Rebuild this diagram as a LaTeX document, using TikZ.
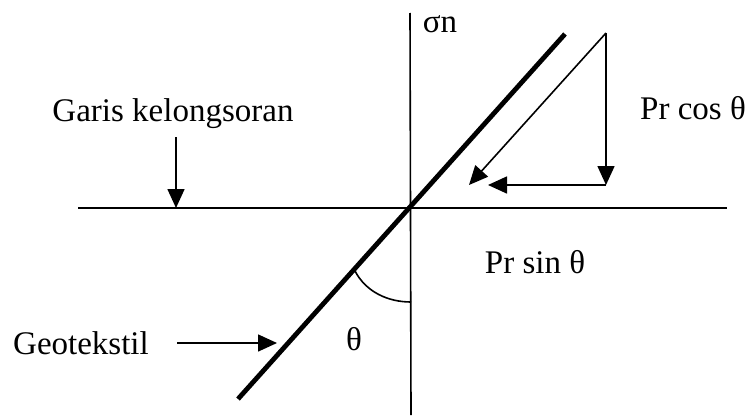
\documentclass[tikz,border=0pt]{standalone}
\usepackage{fontspec}
\setmainfont{Liberation Serif}
\usetikzlibrary{arrows.meta}
\begin{document}
\begin{tikzpicture}[x=1pt,y=-1pt,
  lbl/.style={inner sep=0pt,font=\fontsize{33}{36}\selectfont},
  thin line/.style={line width=1.6pt},
  tip/.style={-{Triangle[length=19pt,width=17pt]}}]
\useasboundingbox (0,0) rectangle (751,415);
\coordinate (O) at (410,208);
\coordinate (vtop) at (410,13);
\coordinate (vbot) at (411,415);
\coordinate (hl) at (78,208);
\coordinate (hr) at (727,208);
\coordinate (gtop) at (565,34);
\coordinate (gbot) at (238,399);
\coordinate (P) at (606,33);
\coordinate (C) at (606,185);
\coordinate (Ptip) at (469,185);
\coordinate (Htip) at (488,185);
% axes
\draw[thin line] (vtop) -- (vbot);
\draw[line width=2.6pt] (hl) -- (hr);
% geotextile
\draw[line width=4.8pt] (gbot) -- (gtop);
% force arrows
\draw[thin line,tip] (P) -- (Ptip);
\draw[thin line,tip] (P) -- (C);
\draw[thin line,tip] (C) -- (Htip);
% angle arc
\coordinate (a1) at (355,271);
\coordinate (a2) at (411,302);
\draw[thin line] (a1) .. controls (366,292) and (388,302) .. (a2);
% labels
\node[lbl] (sn) at (440,24) {σn};
\node[lbl] (garis) at (173,114) {Garis kelongsoran};
\node[lbl] (cos) at (693,108) {Pr cos θ};
\node[lbl] (sin) at (535,262) {Pr sin θ};
\node[lbl] (geo) at (81,343) {Geotekstil};
\node[lbl] (th) at (354,339) {θ};
\coordinate (garr) at (176,137);
\coordinate (gaTip) at (176,208);
\draw[thin line,tip] (garr) -- (gaTip);
\coordinate (geoA) at (177,343);
\coordinate (geoTip) at (277,343);
\draw[thin line,tip] (geoA) -- (geoTip);
\end{tikzpicture}
\end{document}
